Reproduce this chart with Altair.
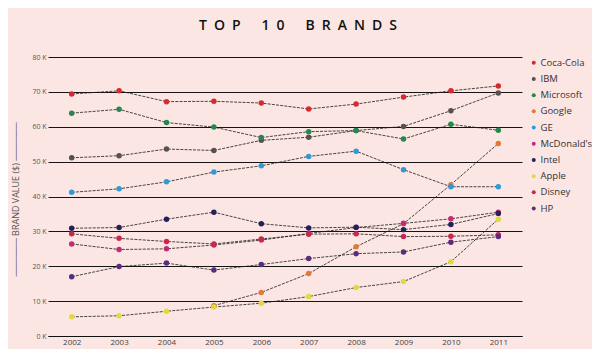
import altair as alt
import pandas as pd

years = [2002, 2003, 2004, 2005, 2006, 2007, 2008, 2009, 2010, 2011]
brands = ["Coca-Cola", "IBM", "Microsoft", "Google", "GE",
          "McDonald's", "Intel", "Apple", "Disney", "HP"]
colors = ["#d42a30", "#555150", "#24874f", "#e07a3a", "#2e9ad6",
          "#c42a78", "#24205c", "#e2da3c", "#c8284e", "#5a2c7c"]

coca_cola = [69.4, 70.3, 67.2, 67.3, 66.8, 65.1, 66.5, 68.5, 70.3, 71.7]
ibm = [51.1, 51.7, 53.6, 53.2, 56.1, 57.0, 58.9, 60.1, 64.6, 69.7]
microsoft = [63.9, 65.0, 61.2, 59.9, 56.9, 58.6, 58.9, 56.5, 60.7, 59.0]
google = [None, None, None, 8.7, 12.5, 17.9, 25.6, 32.2, 43.4, 55.2]
ge = [41.2, 42.2, 44.2, 47.0, 48.8, 51.5, 53.0, 47.7, 42.8, 42.8]
mcdonalds = [26.4, 24.8, 25.0, 26.1, 27.5, 29.4, 31.1, 32.3, 33.6, 35.5]
intel = [30.9, 31.1, 33.5, 35.5, 32.2, 31.0, 31.2, 30.5, 32.0, 35.1]
apple = [5.5, 5.8, 7.1, 8.3, 9.4, 11.3, 13.9, 15.6, 21.3, 33.5]
disney = [29.3, 28.0, 27.1, 26.4, 27.8, 29.2, 29.3, 28.5, 28.6, 29.0]
hp = [17.0, 19.9, 20.9, 18.9, 20.5, 22.2, 23.6, 24.1, 26.9, 28.5]

series = [coca_cola, ibm, microsoft, google, ge, mcdonalds, intel, apple, disney, hp]

rows = []
for brand, vals in zip(brands, series):
    for yr, v in zip(years, vals):
        if v is not None:
            rows.append({"year": str(yr), "brand": brand, "value": v})
df = pd.DataFrame(rows)

FONT = "Open Sans"

x = alt.X("year:O",
          scale=alt.Scale(type="point", padding=0.5),
          axis=alt.Axis(title=None, labelAngle=0, ticks=False, domain=True,
                        domainColor="#111", domainWidth=1, grid=False,
                        labelFont=FONT, labelFontSize=8, labelColor="#444",
                        labelPadding=2))
y = alt.Y("value:Q",
          scale=alt.Scale(domain=[0, 80], nice=False),
          axis=alt.Axis(values=list(range(0, 81, 10)),
                        labelExpr="datum.value + ' K'",
                        grid=True, gridColor="#151515", gridWidth=1,
                        domain=False, ticks=False, labelPadding=2,
                        labelFont=FONT, labelFontSize=7, labelColor="#555",
                        title="──────  BRAND VALUE ($)  ──────",
                        titleFont=FONT, titleFontSize=9, titleFontWeight="normal",
                        titleColor="#555", titleX=-33, titleY=142,
                        titleAlign="center", titleBaseline="middle", titleAngle=270))

lines = alt.Chart(df).mark_line(color="#1a1a1a", strokeWidth=0.8,
                                strokeDash=[3, 1.2]).encode(
    x=x, y=y, detail="brand:N")

points = alt.Chart(df).mark_circle(size=30, opacity=1).encode(
    x=x, y=y,
    color=alt.Color("brand:N",
                    scale=alt.Scale(domain=brands, range=colors),
                    legend=alt.Legend(title=None, orient="none",
                                      legendX=481, legendY=1,
                                      symbolType="circle", symbolSize=16,
                                      labelFont=FONT, labelFontSize=9.5,
                                      labelColor="#333", labelOffset=2,
                                      labelLimit=120, rowPadding=5.2)))

title_text = "\u2002".join("TOP") + "\u2002\u2003" + "\u2002".join("10") + \
    "\u2002\u2003" + "\u2002".join("BRANDS")

chart = alt.layer(lines, points).properties(
    width=474, height=279,
    autosize=alt.AutoSizeParams(type="none"),
    padding={"left": 40, "top": 49, "right": 70, "bottom": 13},
    background="#fce6e3",
    title=alt.TitleParams(text=title_text, font=FONT, fontSize=14,
                          fontWeight=600, color="#111", anchor="middle",
                          frame="group", dx=13, offset=20),
).configure_view(stroke=None)

chart.save("out.html", embed_options={"renderer": "svg", "actions": False})
